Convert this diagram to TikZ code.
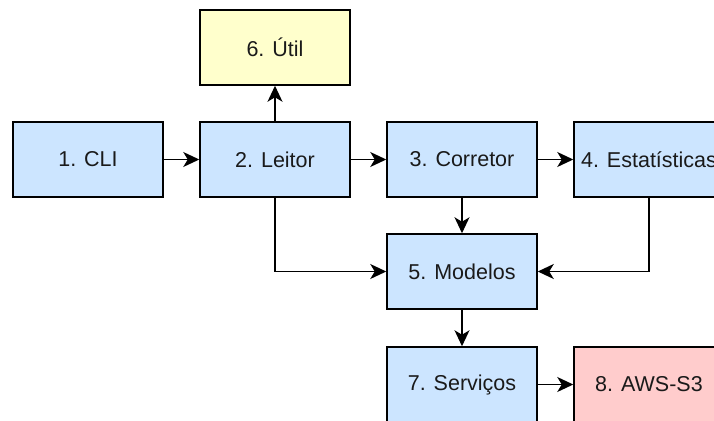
\documentclass[tikz,border=0pt]{standalone}
\usepackage{fontspec}
\setmainfont{Liberation Sans}
\usetikzlibrary{arrows.meta}
\definecolor{bluefill}{HTML}{CCE5FF}
\definecolor{yellowfill}{HTML}{FFFFCC}
\definecolor{pinkfill}{HTML}{FFCCCC}
\definecolor{txt}{HTML}{1A1A1A}
\tikzset{
  box/.style={draw=black, line width=1.5pt, minimum width=150pt, minimum height=75pt,
    inner sep=0pt, text=txt, font=\fontsize{21.5pt}{24pt}\selectfont},
  bluebox/.style={box, fill=bluefill},
  yellowbox/.style={box, fill=yellowfill},
  pinkbox/.style={box, fill=pinkfill},
  conn/.style={draw=black, line width=1.5pt,
    -{Stealth[length=16pt,width=15pt,inset=4.5pt]}}
}
\begin{document}
\begin{tikzpicture}[x=1pt,y=-1pt]
\useasboundingbox (0,0) rectangle (714,420);
\clip (0,0) rectangle (714,420);
\node[bluebox] (cli) at (88,159.5) {1. CLI};
\node[bluebox] (leitor) at (275,159.5) {2. Leitor};
\node[yellowbox] (util) at (275,47.5) {6. Útil};
\node[bluebox] (corretor) at (462,159.5) {3. Corretor};
\node[bluebox] (estat) at (649,159.5) {4. Estatísticas};
\node[bluebox] (modelos) at (462,271.5) {5. Modelos};
\node[bluebox] (servicos) at (462,384.5) {7. Serviços};
\node[pinkbox] (aws) at (649,384.5) {8. AWS-S3};
\draw[conn] (cli) -- (leitor);
\draw[conn] (leitor) -- (util);
\draw[conn] (leitor) -- (corretor);
\draw[conn] (corretor) -- (estat);
\draw[conn] (corretor) -- (modelos);
\draw[conn] (leitor.south) |- (modelos.west);
\draw[conn] (estat.south) |- (modelos.east);
\draw[conn] (modelos) -- (servicos);
\draw[conn] (servicos) -- (aws);
\end{tikzpicture}
\end{document}
